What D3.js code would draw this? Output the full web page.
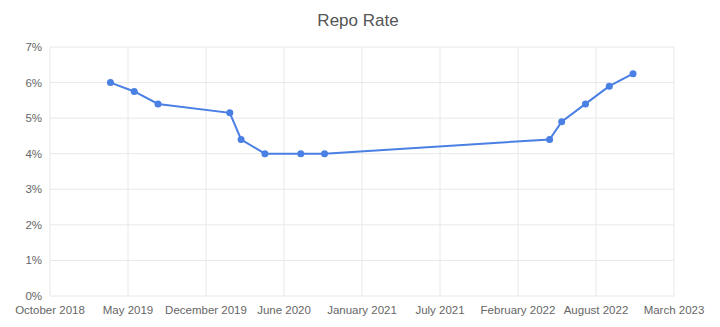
<!DOCTYPE html>
<html>
<head>
<meta charset="utf-8">
<title>Repo Rate</title>
<script src="https://d3js.org/d3.v7.min.js"></script>
<style>
  body { margin: 0; background: #fff; }
  text { font-family: "Liberation Sans", Arial, sans-serif; }
</style>
</head>
<body>
<svg width="720" height="327"></svg>
<script>
// month of policy change and repo rate (%)
const dates = ["2019-04-01", "2019-06-01", "2019-08-01", "2020-02-01", "2020-03-01", "2020-05-01",
               "2020-08-01", "2020-10-01", "2022-05-01", "2022-06-01", "2022-08-01", "2022-10-01", "2022-12-01"];
const rates = [6.0, 5.75, 5.4, 5.15, 4.4, 4.0, 4.0, 4.0, 4.4, 4.9, 5.4, 5.9, 6.25];

// x axis ticks (evenly spaced, 200 days apart)
const tickDates = ["2018-10-28", "2019-05-16", "2019-12-02", "2020-06-19", "2021-01-05",
                   "2021-07-24", "2022-02-09", "2022-08-28", "2023-03-16"];
const yTicks = [0, 1, 2, 3, 4, 5, 6, 7];

const parse = d3.utcParse("%Y-%m-%d");
const data = dates.map((d, i) => ({ date: parse(d), rate: rates[i] }));
const ticks = tickDates.map(parse);

const svg = d3.select("svg");
const plotL = 50, plotR = 674, plotT = 47, plotB = 296;

const x = d3.scaleUtc().domain([ticks[0], ticks[ticks.length - 1]]).range([plotL, plotR]);
const y = d3.scaleLinear().domain([0, 7]).range([plotB, plotT]);

svg.append("text")
  .attr("x", 358).attr("y", 26)
  .attr("text-anchor", "middle")
  .style("font-size", "17px")
  .style("fill", "#555")
  .text("Repo Rate");

// gridlines
svg.append("g")
  .selectAll("line")
  .data(yTicks)
  .join("line")
  .attr("x1", plotL).attr("x2", plotR)
  .attr("y1", d => y(d)).attr("y2", d => y(d))
  .style("stroke", "#e8e8e8");

svg.append("g")
  .selectAll("line")
  .data(ticks)
  .join("line")
  .attr("x1", d => x(d)).attr("x2", d => x(d))
  .attr("y1", plotT).attr("y2", plotB)
  .style("stroke", "#e8e8e8");

// y labels
svg.append("g")
  .selectAll("text")
  .data(yTicks)
  .join("text")
  .attr("x", plotL - 8)
  .attr("y", d => y(d) + 4)
  .attr("text-anchor", "end")
  .style("font-size", "11.5px")
  .style("fill", "#666")
  .text(d => d + "%");

// x labels
const fmt = d3.utcFormat("%B %Y");
svg.append("g")
  .selectAll("text")
  .data(ticks)
  .join("text")
  .attr("x", d => x(d))
  .attr("y", 314)
  .attr("text-anchor", "middle")
  .style("font-size", "11.5px")
  .style("fill", "#666")
  .text(d => fmt(d));

const line = d3.line()
  .x(d => x(d.date))
  .y(d => y(d.rate));

svg.append("path")
  .datum(data)
  .attr("d", line)
  .style("fill", "none")
  .style("stroke", "#4a7fe3")
  .style("stroke-width", 2);

svg.append("g")
  .selectAll("circle")
  .data(data)
  .join("circle")
  .attr("cx", d => x(d.date))
  .attr("cy", d => y(d.rate))
  .attr("r", 3.5)
  .style("fill", "#4a7fe3");
</script>
</body>
</html>
